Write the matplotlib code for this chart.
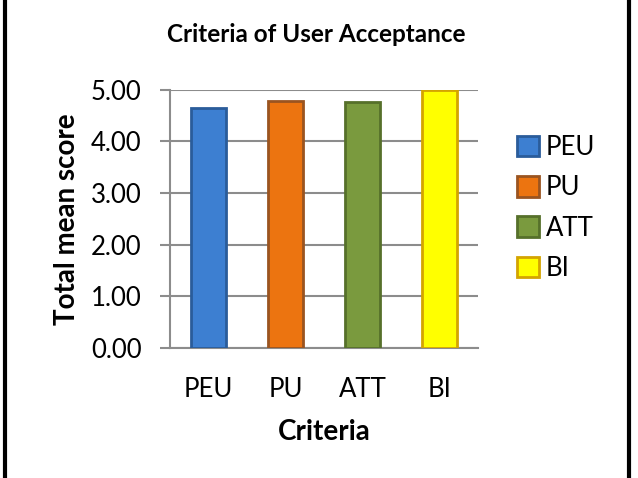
import matplotlib.pyplot as plt
from matplotlib.patches import Rectangle

categories = ["PEU", "PU", "ATT", "BI"]
scores = [4.65, 4.79, 4.76, 5.00]
face_colors = ["#3D7FD1", "#EC7410", "#7A9A3E", "#FFFF00"]
edge_colors = ["#2A5C9A", "#9A5420", "#56702A", "#D4A400"]
y_ticks = [0, 1, 2, 3, 4, 5]

plt.rcParams['font.family'] = ['Lato', 'DejaVu Sans']

fig = plt.figure(figsize=(6.38, 4.78), dpi=100)
ax = fig.add_axes([0.2665, 0.272, 0.4825, 0.54])

x = range(len(categories))
bars = ax.bar(x, scores, width=0.45, color=face_colors, edgecolor=edge_colors,
              linewidth=2, zorder=3)

ax.set_xlim(-0.5, 3.5)
ax.set_ylim(0, 5)
ax.set_yticks(y_ticks)
ax.set_yticklabels(["%.2f" % v for v in y_ticks], fontsize=18.5)
ax.set_xticks(list(x))
ax.set_xticklabels(categories, fontsize=18.5)
ax.tick_params(axis='y', length=7.5, color='#8c8c8c', width=1.5, pad=13)
ax.tick_params(axis='x', length=0, pad=21)
ax.grid(axis='y', color='#8c8c8c', linewidth=1.5, zorder=0)
for s in ['top', 'right']:
    ax.spines[s].set_visible(False)
for s in ['left', 'bottom']:
    ax.spines[s].set_color('#8c8c8c')
    ax.spines[s].set_linewidth(1.5)

ax.set_ylabel("Total mean score", fontsize=20, fontweight='bold', labelpad=8)
ax.set_xlabel("Criteria", fontsize=20, fontweight='bold', labelpad=12)
fig.text(0.495, 0.927, "Criteria of User Acceptance", fontsize=17.5,
         fontweight='bold', ha='center', va='center')

leg = fig.legend(bars, categories, loc='center left', bbox_to_anchor=(0.811, 0.565),
                 frameon=False, fontsize=18.5, handlelength=0.85, handleheight=0.85,
                 labelspacing=0.6, handletextpad=0.25, borderpad=0, borderaxespad=0)

fig.patches.append(Rectangle((0.0086, -0.05), 0.978, 1.1, transform=fig.transFigure,
                             fill=False, edgecolor='black', linewidth=3))

fig.savefig("out.png", dpi=100)
